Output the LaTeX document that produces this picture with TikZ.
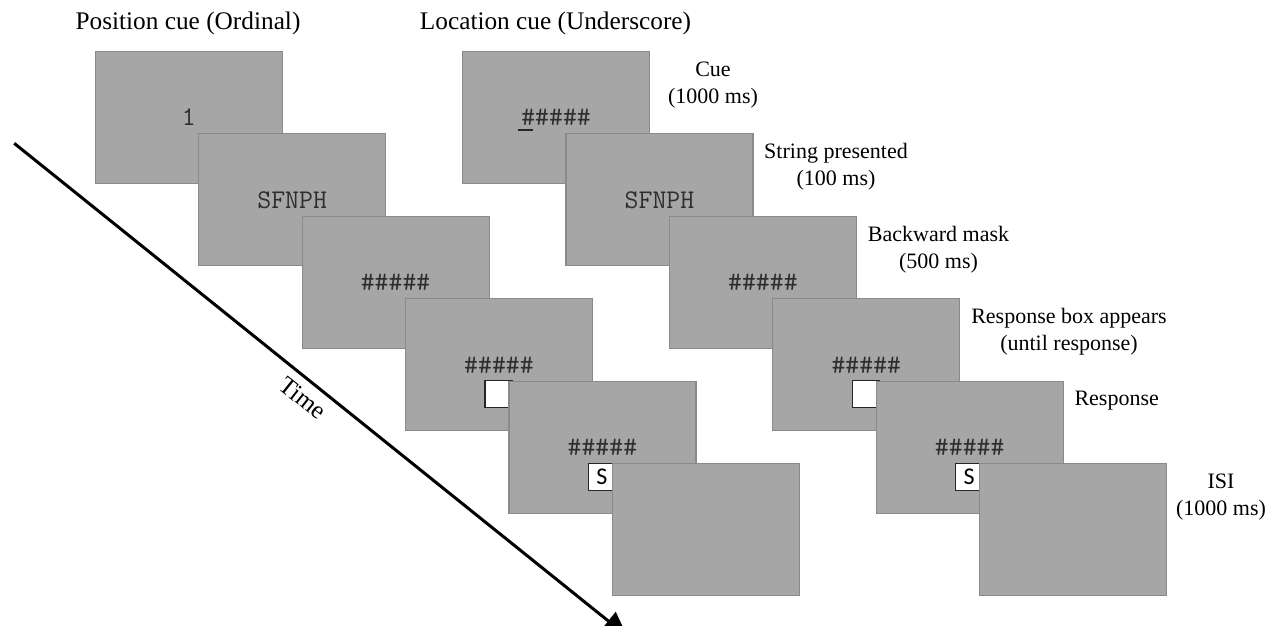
\documentclass[tikz,border=0pt]{standalone}
\usepackage{fontspec}
\setmainfont{Liberation Serif}
\newfontfamily\sansf{Carlito}
\usetikzlibrary{arrows.meta}
\definecolor{boxfill}{HTML}{A6A6A6}
\definecolor{boxline}{HTML}{8A8A8A}
\definecolor{glyph}{HTML}{2E2E2E}
\begin{document}
\begin{tikzpicture}[x=1pt,y=-1pt,
  screen/.style={draw=boxline, line width=1.2pt, fill=boxfill, minimum width=187pt,
    minimum height=132pt, inner sep=0pt, anchor=north west,
    font=\ttfamily\fontsize{27}{27}\selectfont, text=glyph},
  respbox/.style={draw=black!85, line width=1.3pt, fill=white, minimum width=27pt,
    minimum height=27pt, inner sep=0pt, font=\sansf\fontsize{24}{24}\selectfont},
  title/.style={font=\fontsize{25.3}{30}\selectfont, inner sep=0pt},
  lbl/.style={font=\fontsize{22}{27}\selectfont, align=center, inner sep=0pt}]
\useasboundingbox (0,0) rectangle (1278,625);

% titles
\node[title] (tpos) at (188,23) {Position cue (Ordinal)};
\node[title] (tloc) at (555.5,23) {Location cue (Underscore)};

% time arrow
\coordinate (ts) at (14.2,143.3);
\coordinate (te) at (627,636);
\draw[line width=3pt, -{Triangle[length=24pt,width=23pt]}] (ts) -- (te);
\node[font=\fontsize{25}{25}\selectfont, rotate=-38.5, inner sep=0pt] (time) at (303,398) {Time};

% left sequence (ordinal cue)
\node[screen] (a1) at (94.7,50.7) {1};
\node[screen] (a2) at (198.1,133.2) {SFNPH};
\node[screen] (a3) at (301.5,215.7) {\#\#\#\#\#};
\node[screen] (a4) at (404.9,298.2) {\#\#\#\#\#};
\node[respbox] (a4r) at (498.4,393.7) {};
\node[screen] (a5) at (508.3,380.7) {\#\#\#\#\#};
\node[respbox] (a5r) at (601.8,476.7) {S};
\node[screen] (a6) at (611.7,463.2) {};

% right sequence (underscore cue)
\node[screen] (b1) at (462,50.7) {\#\#\#\#\#};
\draw[line width=1.5pt, black!85] (518,130) -- (533,130);
\node[screen] (b2) at (565.4,133.2) {SFNPH};
\node[screen] (b3) at (668.8,215.7) {\#\#\#\#\#};
\node[screen] (b4) at (772.2,298.2) {\#\#\#\#\#};
\node[respbox] (b4r) at (865.7,393.7) {};
\node[screen] (b5) at (875.6,380.7) {\#\#\#\#\#};
\node[respbox] (b5r) at (969.1,476.7) {S};
\node[screen] (b6) at (979,463.2) {};

% stage labels
\node[lbl] (l1) at (713,85) {Cue\\(1000 ms)};
\node[lbl] (l2) at (836,167) {String presented\\(100 ms)};
\node[lbl] (l3) at (938.5,250) {Backward mask\\(500 ms)};
\node[lbl] (l4) at (1069,332) {Response box appears\\(until response)};
\node[lbl] (l5) at (1116.7,401) {Response};
\node[lbl] (l6) at (1221,497) {ISI\\(1000 ms)};
\end{tikzpicture}
\end{document}
